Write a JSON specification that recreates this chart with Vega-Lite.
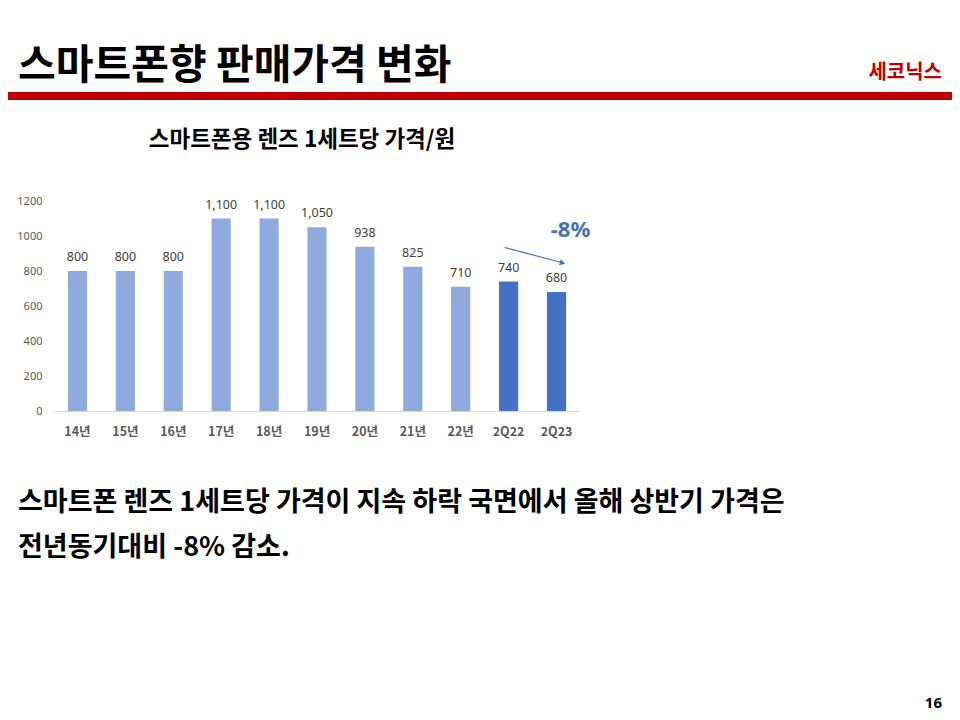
{
  "$schema": "https://vega.github.io/schema/vega-lite/v6.json",
  "background": "white",
  "padding": {"left": 8, "top": 46, "right": 8, "bottom": 0},
  "spacing": 28,
  "config": {
    "font": "Noto Sans CJK KR",
    "view": {"stroke": null},
    "axisY": {"labelOverlap": false}
  },
  "vconcat": [
    {
      "hconcat": [
        {
          "width": 600,
          "height": 8,
          "view": {"fill": "#C00000", "stroke": null},
          "title": {"text": "스마트폰향 판매가격 변화", "anchor": "start", "fontSize": 41, "fontWeight": "bold", "color": "#000000", "dx": 10, "offset": 4, "font": "Noto Sans CJK KR"},
          "data": {"values": []},
          "mark": "text",
          "encoding": {}
        },
        {
          "width": 344,
          "height": 8,
          "view": {"fill": "#C00000", "stroke": null},
          "title": {"text": "세코닉스", "anchor": "end", "fontSize": 20, "fontWeight": "bold", "color": "#C00000", "dx": -10, "offset": 9, "font": "Noto Sans CJK KR"},
          "data": {"values": []},
          "mark": "text",
          "encoding": {}
        }
      ],
      "spacing": 0,
      "bounds": "flush"
    },
    {
      "hconcat": [
        {
          "width": 8,
          "height": 10,
          "data": {"values": []},
          "mark": "text",
          "encoding": {}
        },
        {
          "width": 526,
          "height": 210,
          "title": {"text": "스마트폰용 렌즈 1세트당 가격/원", "anchor": "middle", "frame": "group", "dx": -15, "offset": 44, "fontSize": 22.5, "fontWeight": "bold", "color": "#000000", "font": "Noto Sans CJK KR"},
          "layer": [
            {
              "data": {"values": [
                {"cat": "14년", "price": 800, "period": "연간"},
                {"cat": "15년", "price": 800, "period": "연간"},
                {"cat": "16년", "price": 800, "period": "연간"},
                {"cat": "17년", "price": 1100, "period": "연간"},
                {"cat": "18년", "price": 1100, "period": "연간"},
                {"cat": "19년", "price": 1050, "period": "연간"},
                {"cat": "20년", "price": 938, "period": "연간"},
                {"cat": "21년", "price": 825, "period": "연간"},
                {"cat": "22년", "price": 710, "period": "연간"},
                {"cat": "2Q22", "price": 740, "period": "반기"},
                {"cat": "2Q23", "price": 680, "period": "반기"}
              ]},
              "layer": [
                {
                  "mark": {"type": "bar"},
                  "encoding": {
                    "x": {"field": "cat", "type": "nominal", "sort": null, "title": null,
                      "scale": {"paddingInner": 0.6, "paddingOuter": 0.29},
                      "axis": {"labelAngle": 0, "ticks": false, "domainColor": "#D9D9D9", "domainWidth": 1, "labelFontWeight": "bold", "labelColor": "#595959", "labelFontSize": 12.5, "labelPadding": 14, "labelFont": "Noto Sans CJK KR"}},
                    "y": {"field": "price", "type": "quantitative", "title": null,
                      "scale": {"domain": [0, 1200], "nice": false},
                      "axis": {"values": [0, 200, 400, 600, 800, 1000, 1200], "format": "d", "labelOverlap": false, "grid": false, "domain": false, "ticks": false, "labelColor": "#595959", "labelFontSize": 11, "labelPadding": 12, "labelFont": "Noto Sans"}},
                    "color": {"field": "period", "type": "nominal", "scale": {"domain": ["연간", "반기"], "range": ["#8FAADC", "#4472C4"]}, "legend": null}
                  }
                },
                {
                  "mark": {"type": "text", "baseline": "bottom", "dy": -7, "fontSize": 12.5, "color": "#404040", "font": "Noto Sans"},
                  "encoding": {
                    "x": {"field": "cat", "type": "nominal", "sort": null, "title": null},
                    "y": {"field": "price", "type": "quantitative", "title": null,
                      "axis": {"values": [0, 200, 400, 600, 800, 1000, 1200], "format": "d", "labelOverlap": false, "grid": false, "domain": false, "ticks": false, "labelColor": "#595959", "labelFontSize": 11, "labelPadding": 12, "labelFont": "Noto Sans"}},
                    "text": {"field": "price", "type": "quantitative", "format": ","}
                  }
                }
              ]
            },
            {
              "data": {"values": [
                {"from": "2Q22", "to": "2Q23", "fromPrice": 740, "toPrice": 680, "label": "-8%"}
              ]},
              "layer": [
                {
                  "mark": {"type": "rule", "color": "#4472C4", "strokeWidth": 1.2, "xOffset": -4, "x2Offset": 7, "yOffset": -34, "y2Offset": -29},
                  "encoding": {
                    "x": {"field": "from", "type": "nominal", "sort": null, "title": null},
                    "x2": {"field": "to"},
                    "y": {"field": "fromPrice", "type": "quantitative", "title": null,
                      "axis": {"values": [0, 200, 400, 600, 800, 1000, 1200], "format": "d", "labelOverlap": false, "grid": false, "domain": false, "ticks": false, "labelColor": "#595959", "labelFontSize": 11, "labelPadding": 12, "labelFont": "Noto Sans"}},
                    "y2": {"field": "toPrice"}
                  }
                },
                {
                  "mark": {"type": "point", "shape": "triangle-right", "filled": true, "opacity": 1, "color": "#4472C4", "size": 40, "angle": 15, "xOffset": 6, "yOffset": -29},
                  "encoding": {
                    "x": {"field": "to", "type": "nominal", "sort": null, "title": null},
                    "y": {"field": "toPrice", "type": "quantitative", "title": null,
                      "axis": {"values": [0, 200, 400, 600, 800, 1000, 1200], "format": "d", "labelOverlap": false, "grid": false, "domain": false, "ticks": false, "labelColor": "#595959", "labelFontSize": 11, "labelPadding": 12, "labelFont": "Noto Sans"}}
                  }
                },
                {
                  "mark": {"type": "text", "color": "#4472C4", "fontSize": 22, "fontWeight": "bold", "dx": 14, "dy": -62, "font": "Noto Sans"},
                  "encoding": {
                    "x": {"field": "to", "type": "nominal", "sort": null, "title": null},
                    "y": {"field": "toPrice", "type": "quantitative", "title": null,
                      "axis": {"values": [0, 200, 400, 600, 800, 1000, 1200], "format": "d", "labelOverlap": false, "grid": false, "domain": false, "ticks": false, "labelColor": "#595959", "labelFontSize": 11, "labelPadding": 12, "labelFont": "Noto Sans"}},
                    "text": {"field": "label", "type": "nominal"}
                  }
                }
              ]
            }
          ]
        }
      ],
      "spacing": 0
    },
    {
      "width": 900,
      "height": 19,
      "title": {"text": ["스마트폰 렌즈 1세트당 가격이 지속 하락 국면에서 올해 상반기 가격은", "전년동기대비 -8% 감소."], "orient": "bottom", "anchor": "start", "dx": 10, "offset": 5, "fontSize": 27, "lineHeight": 45, "fontWeight": "bold", "color": "#000000", "font": "Noto Sans CJK KR"},
      "data": {"values": []},
      "mark": "text",
      "encoding": {}
    },
    {
      "width": 944,
      "height": 103,
      "title": {"text": "16", "orient": "bottom", "anchor": "end", "dx": -10, "offset": 4, "fontSize": 15, "fontWeight": "bold", "color": "#000000", "font": "Noto Sans"},
      "data": {"values": []},
      "mark": "text",
      "encoding": {}
    }
  ]
}
